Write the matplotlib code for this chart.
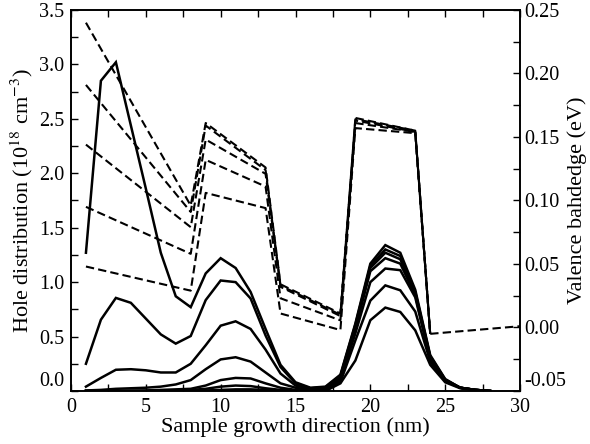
import matplotlib.pyplot as plt
from matplotlib.ticker import MultipleLocator, FormatStrFormatter

plt.rcParams['font.family'] = ['Liberation Serif', 'DejaVu Serif']
plt.rcParams['mathtext.fontset'] = 'stix'

# hole distribution profiles (1e18 cm^-3), sampled every nm from 1 to 28
depth = list(range(1, 29))
hole_a = [1.27, 2.85, 3.02, 2.44, 1.86, 1.27, 0.87, 0.77, 1.08, 1.22, 1.13, 0.91, 0.57, 0.24,
          0.08, 0.03, 0.04, 0.15, 0.62, 1.17, 1.34, 1.27, 0.93, 0.33, 0.11, 0.03, 0.01, 0.0]
hole_b = [0.25, 0.655, 0.855, 0.81, 0.665, 0.52, 0.435, 0.505, 0.835, 1.015, 1.0, 0.85, 0.51, 0.22,
          0.07, 0.025, 0.035, 0.14, 0.61, 1.15, 1.30, 1.24, 0.91, 0.32, 0.105, 0.03, 0.01, 0.0]
hole_c = [0.04, 0.12, 0.195, 0.20, 0.19, 0.17, 0.17, 0.25, 0.42, 0.60, 0.64, 0.57, 0.38, 0.16,
          0.05, 0.02, 0.03, 0.13, 0.59, 1.13, 1.27, 1.21, 0.90, 0.31, 0.10, 0.03, 0.01, 0.0]
hole_d = [0.005, 0.01, 0.02, 0.025, 0.03, 0.04, 0.06, 0.10, 0.20, 0.29, 0.31, 0.27, 0.17, 0.07,
          0.03, 0.01, 0.02, 0.12, 0.57, 1.10, 1.22, 1.17, 0.88, 0.30, 0.10, 0.03, 0.01, 0.0]
hole_e = [0.0, 0.0, 0.0, 0.003, 0.005, 0.01, 0.015, 0.02, 0.05, 0.10, 0.12, 0.115, 0.07, 0.03,
          0.01, 0.005, 0.01, 0.10, 0.53, 1.0, 1.125, 1.11, 0.86, 0.29, 0.095, 0.03, 0.01, 0.0]
hole_f = [0.0, 0.0, 0.0, 0.0, 0.0, 0.003, 0.005, 0.01, 0.02, 0.04, 0.05, 0.045, 0.025, 0.01,
          0.005, 0.005, 0.005, 0.08, 0.465, 0.83, 0.97, 0.925, 0.73, 0.27, 0.09, 0.03, 0.01, 0.0]
hole_g = [0.0, 0.0, 0.0, 0.0, 0.0, 0.0, 0.0, 0.003, 0.005, 0.01, 0.015, 0.015, 0.01, 0.0,
          0.0, 0.0, 0.0, 0.07, 0.28, 0.65, 0.766, 0.726, 0.557, 0.24, 0.08, 0.025, 0.01, 0.0]
holes = [hole_a, hole_b, hole_c, hole_d, hole_e, hole_f, hole_g]

# valence band edge (eV) at the layer corners, up to the last barrier
band_x = [1, 8, 9, 13, 14, 18, 19, 23, 24]
band_1 = [0.240, 0.096, 0.161, 0.126, 0.034, 0.011, 0.165, 0.155, -0.005]
band_2 = [0.191, 0.091, 0.159, 0.124, 0.033, 0.010, 0.164, 0.155, -0.005]
band_3 = [0.144, 0.079, 0.148, 0.121, 0.032, 0.009, 0.163, 0.154, -0.005]
band_4 = [0.095, 0.058, 0.132, 0.111, 0.023, 0.0056, 0.161, 0.154, -0.005]
band_5 = [0.048, 0.029, 0.106, 0.094, 0.011, -0.002, 0.157, 0.153, -0.005]
bands = [band_1, band_2, band_3, band_4, band_5]

# shared tail of all band edges beyond 24 nm
tail_x = [24, 30]
tail = [-0.005, 0.001]

fig = plt.figure(figsize=(5.9, 4.44), dpi=100)
ax = fig.add_axes([0.1203, 0.1194, 0.7611, 0.8581])
ax2 = ax.twinx()

for h in holes:
    ax.plot(depth, h, color='black', lw=1.8, solid_joinstyle='miter')
dash = (0, (4, 2))
for b in bands:
    ax2.plot(band_x, b, color='black', lw=1.5, ls=dash)
ax2.plot(tail_x, tail, color='black', lw=1.5, ls=dash)

ax.set_xlim(0, 30)
ax.set_ylim(0, 3.5)
ax2.set_ylim(-0.05, 0.25)

ax.xaxis.set_major_locator(MultipleLocator(5))
ax.xaxis.set_minor_locator(MultipleLocator(2.5))
ax.yaxis.set_major_locator(MultipleLocator(0.5))
ax.yaxis.set_minor_locator(MultipleLocator(0.25))
ax.yaxis.set_major_formatter(FormatStrFormatter('%.1f'))
ax2.yaxis.set_major_locator(MultipleLocator(0.05))
ax2.yaxis.set_minor_locator(MultipleLocator(0.025))
ax2.yaxis.set_major_formatter(FormatStrFormatter('%.2f'))

ax.tick_params(which='both', direction='in', top=True, right=False, labelsize=14.5,
               length=5, width=1, pad=5)
ax2.tick_params(which='both', direction='in', labelsize=14.5, length=5, width=1, pad=3)

for a in (ax, ax2):
    for s in a.spines.values():
        s.set_linewidth(1.2)

ax.set_xlabel('Sample growth direction (nm)', fontsize=16, labelpad=0)
ax.set_ylabel('Hole distribution (10$^{18}$ cm$^{-3}$)', fontsize=16, labelpad=3)
ax2.set_ylabel('Valence bahdedge (eV)', fontsize=16, labelpad=1)

# keep the lowest y labels above the bottom corner
fig.canvas.draw()
for tick in ax.yaxis.get_major_ticks():
    if abs(tick.get_loc() - 0.0) < 1e-9:
        tick.label1.set_verticalalignment('bottom')
for tick in ax2.yaxis.get_major_ticks():
    if abs(tick.get_loc() + 0.05) < 1e-9:
        tick.label2.set_verticalalignment('bottom')

fig.savefig('out.png', dpi=100)
